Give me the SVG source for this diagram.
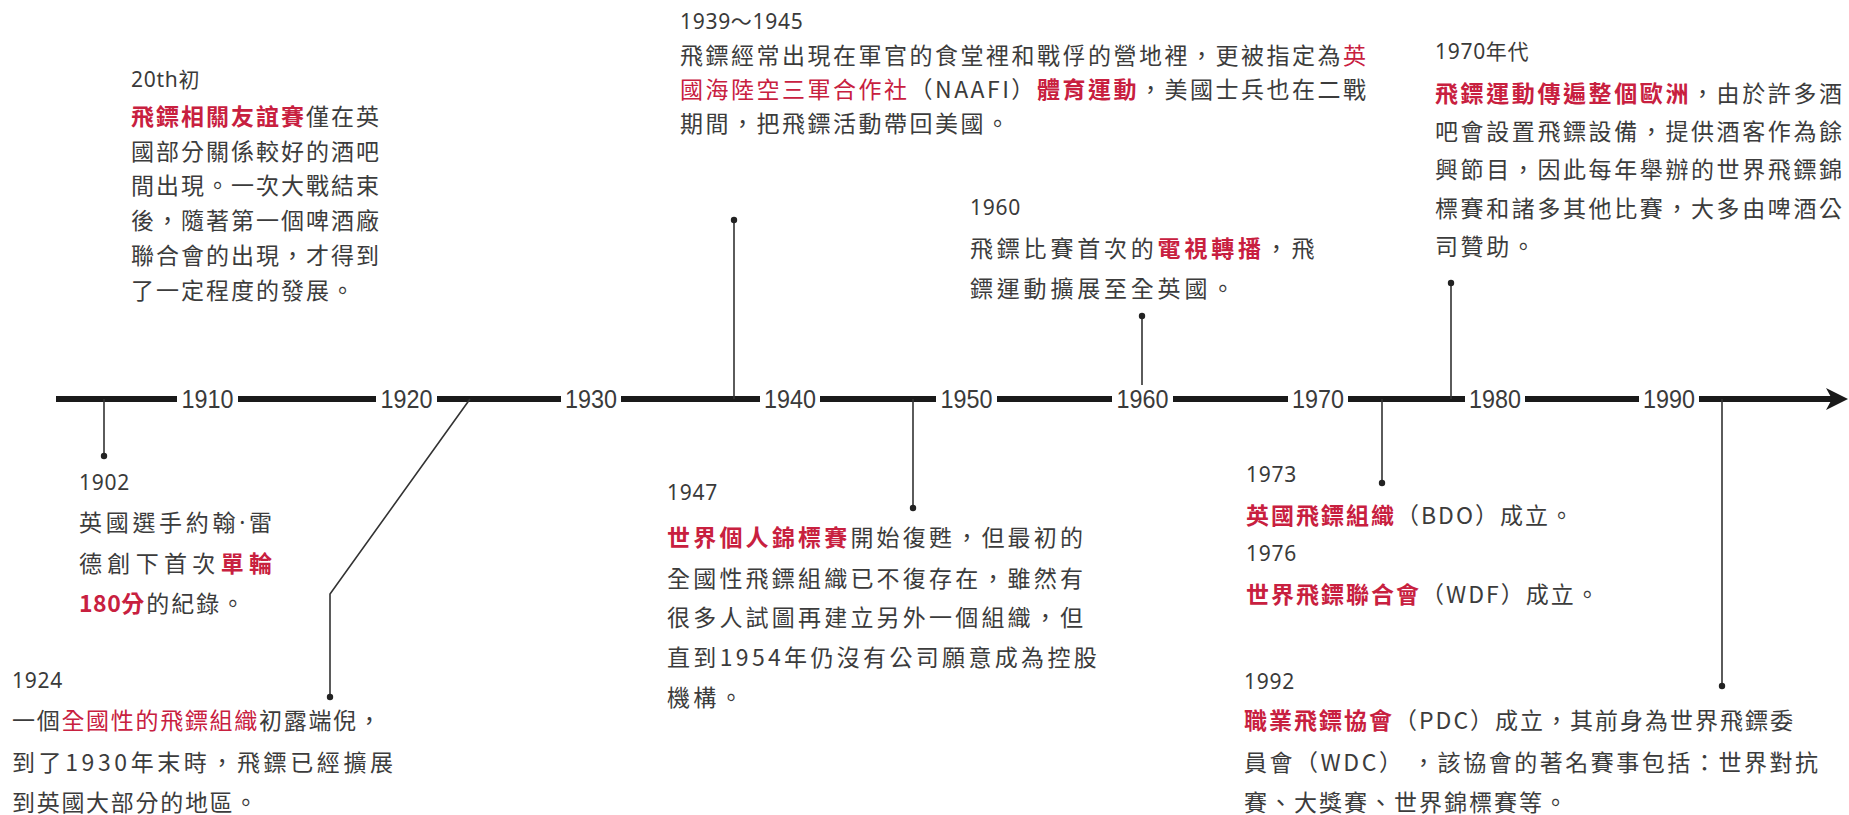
<svg xmlns="http://www.w3.org/2000/svg" width="1849" height="815" viewBox="0 0 1849 815">
<style>
.bg{fill:#ffffff}
.axis{stroke:#1a1a1a;stroke-width:6;fill:none}
.tick{font-family:"Liberation Sans",Arial,sans-serif;font-size:25px;fill:#3a3a3a;text-anchor:middle}
.conn{stroke:#333;stroke-width:1.6;fill:none}
.dot{fill:#222}
.yr{font-family:"Noto Sans","Noto Sans CJK TC",sans-serif;font-size:21px;fill:#3a3a3a;letter-spacing:0.7px}
.t{font-family:"Noto Sans CJK TC","Noto Sans CJK SC",sans-serif;font-size:23px;fill:#3c3c3c}
.r{fill:#c8203f}
.b{font-weight:700}
.lat{font-family:"Noto Sans",sans-serif}
</style>
<rect class="bg" x="0" y="0" width="1849" height="815"/>

<g id="timeline">
<path class="axis" d="M56 399H177M238 399H376M437 399H561M621 399H760M820 399H936M997 399H1112M1173 399H1288M1348 399H1465M1525 399H1639M1699 399H1832"/>
<polygon fill="#1a1a1a" points="1848,399 1826,388 1832,399 1826,410"/>
<text class="tick" x="207.5" y="408" textLength="52" lengthAdjust="spacingAndGlyphs">1910</text>
<text class="tick" x="406.5" y="408" textLength="52" lengthAdjust="spacingAndGlyphs">1920</text>
<text class="tick" x="591" y="408" textLength="52" lengthAdjust="spacingAndGlyphs">1930</text>
<text class="tick" x="790" y="408" textLength="52" lengthAdjust="spacingAndGlyphs">1940</text>
<text class="tick" x="966.5" y="408" textLength="52" lengthAdjust="spacingAndGlyphs">1950</text>
<text class="tick" x="1142.5" y="408" textLength="52" lengthAdjust="spacingAndGlyphs">1960</text>
<text class="tick" x="1318" y="408" textLength="52" lengthAdjust="spacingAndGlyphs">1970</text>
<text class="tick" x="1495" y="408" textLength="52" lengthAdjust="spacingAndGlyphs">1980</text>
<text class="tick" x="1669" y="408" textLength="52" lengthAdjust="spacingAndGlyphs">1990</text>
</g>

<g id="connectors">
<path class="conn" d="M104 399V456"/>
<path class="conn" d="M470 399L330 594V697"/>
<path class="conn" d="M734 399V220"/>
<path class="conn" d="M913 399V508"/>
<path class="conn" d="M1142 385V316"/>
<path class="conn" d="M1451 399V283"/>
<path class="conn" d="M1382 399V483"/>
<path class="conn" d="M1722 399V686"/>
<circle class="dot" cx="104" cy="456" r="3.2"/>
<circle class="dot" cx="330" cy="697" r="3.2"/>
<circle class="dot" cx="734" cy="220" r="3.2"/>
<circle class="dot" cx="913" cy="508" r="3.2"/>
<circle class="dot" cx="1142" cy="316" r="3.2"/>
<circle class="dot" cx="1451" cy="283" r="3.2"/>
<circle class="dot" cx="1382" cy="483" r="3.2"/>
<circle class="dot" cx="1722" cy="686" r="3.2"/>
</g>

<g id="node-20th">
<text class="yr" x="131" y="87">20th初</text>
<g class="t" letter-spacing="2">
<text x="131" y="125"><tspan class="r b">飛鏢相關友誼賽</tspan>僅在英</text>
<text x="131" y="160">國部分關係較好的酒吧</text>
<text x="131" y="194">間出現。一次大戰結束</text>
<text x="131" y="229">後，隨著第一個啤酒廠</text>
<text x="131" y="264">聯合會的出現，才得到</text>
<text x="131" y="299">了一定程度的發展。</text>
</g>
</g>

<g id="node-1902">
<text class="yr" x="79" y="490">1902</text>
<g class="t">
<text x="79" y="531" textLength="193" lengthAdjust="spacing">英國選手約翰<tspan class="lat">·</tspan>雷</text>
<text x="79" y="572" textLength="193" lengthAdjust="spacing">德創下首次<tspan class="r b">單輪</tspan></text>
<text x="79" y="612" letter-spacing="2"><tspan class="r b"><tspan letter-spacing="0.5">180</tspan>分</tspan>的紀錄。</text>
</g>
</g>

<g id="node-1924">
<text class="yr" x="12" y="688">1924</text>
<g class="t">
<text x="12" y="729" letter-spacing="1.7">一個<tspan class="r">全國性的飛鏢組織</tspan>初露端倪，</text>
<text x="12" y="771" textLength="381" lengthAdjust="spacing">到了1930年末時，飛鏢已經擴展</text>
<text x="12" y="811" letter-spacing="1.7">到英國大部分的地區。</text>
</g>
</g>

<g id="node-1939">
<text class="yr" x="680" y="29">1939～1945</text>
<g class="t" letter-spacing="2.5">
<text x="680" y="64">飛鏢經常出現在軍官的食堂裡和戰俘的營地裡，更被指定為<tspan class="r">英</tspan></text>
<text x="680" y="98"><tspan class="r">國海陸空三軍合作社</tspan>（NAAFI）<tspan class="r b">體育運動</tspan>，美國士兵也在二戰</text>
<text x="680" y="132">期間，把飛鏢活動帶回美國。</text>
</g>
</g>

<g id="node-1947">
<text class="yr" x="667" y="500">1947</text>
<g class="t" letter-spacing="3.2">
<text x="667" y="546"><tspan class="r b">世界個人錦標賽</tspan>開始復甦，但最初的</text>
<text x="667" y="587">全國性飛鏢組織已不復存在，雖然有</text>
<text x="667" y="626">很多人試圖再建立另外一個組織，但</text>
<text x="667" y="666" textLength="433" lengthAdjust="spacing">直到1954年仍沒有公司願意成為控股</text>
<text x="667" y="706">機構。</text>
</g>
</g>

<g id="node-1960">
<text class="yr" x="970" y="215">1960</text>
<g class="t" letter-spacing="3.8">
<text x="970" y="257">飛鏢比賽首次的<tspan class="r b">電視轉播</tspan>，飛</text>
<text x="970" y="297">鏢運動擴展至全英國。</text>
</g>
</g>

<g id="node-1970s">
<text class="yr" x="1435" y="59">1970年代</text>
<g class="t" letter-spacing="2.6">
<text x="1435" y="102"><tspan class="r b">飛鏢運動傳遍整個歐洲</tspan>，由於許多酒</text>
<text x="1435" y="140">吧會設置飛鏢設備，提供酒客作為餘</text>
<text x="1435" y="178">興節目，因此每年舉辦的世界飛鏢錦</text>
<text x="1435" y="217">標賽和諸多其他比賽，大多由啤酒公</text>
<text x="1435" y="255">司贊助。</text>
</g>
</g>

<g id="node-1973">
<text class="yr" x="1246" y="482">1973</text>
<text class="t" letter-spacing="2" x="1246" y="524"><tspan class="r b">英國飛鏢組織</tspan>（BDO）成立。</text>
</g>

<g id="node-1976">
<text class="yr" x="1246" y="561">1976</text>
<text class="t" letter-spacing="2" x="1246" y="603"><tspan class="r b">世界飛鏢聯合會</tspan>（WDF）成立。</text>
</g>

<g id="node-1992">
<text class="yr" x="1244" y="689">1992</text>
<g class="t">
<text x="1244" y="729" letter-spacing="2"><tspan class="r b">職業飛鏢協會</tspan>（PDC）成立，其前身為世界飛鏢委</text>
<text x="1244" y="771" textLength="574" lengthAdjust="spacing">員會（WDC） ，該協會的著名賽事包括：世界對抗</text>
<text x="1244" y="811" letter-spacing="2">賽、大獎賽、世界錦標賽等。</text>
</g>
</g>
</svg>
